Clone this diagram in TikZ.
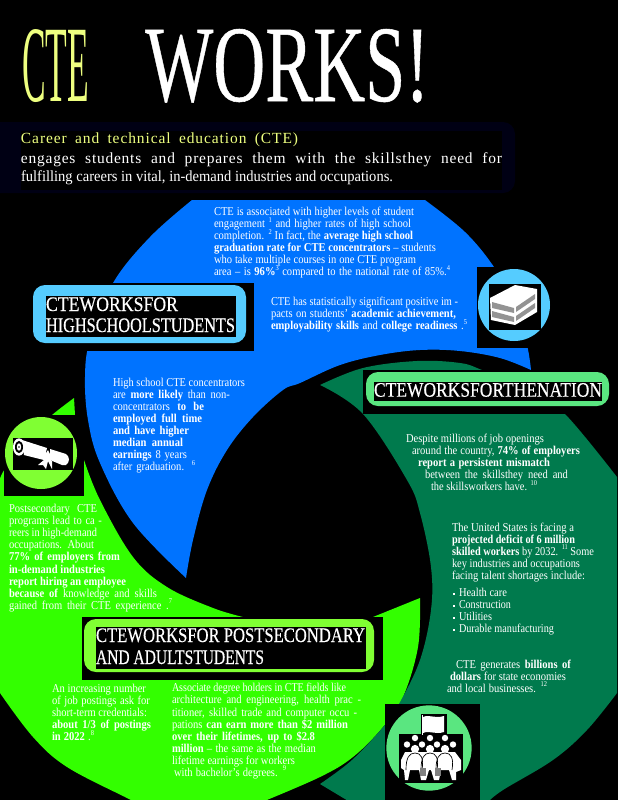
\documentclass[tikz,border=0pt]{standalone}
\usepackage{fontspec}
\usepackage{graphicx}
\setmainfont{Liberation Serif}
\newfontfamily\bodyf[FakeStretch=0.88]{Liberation Serif}
\newfontfamily\headf[FakeBold=0.4]{Liberation Serif}
\newfontfamily\titlef[FakeBold=0.5]{Liberation Serif}
\definecolor{blueA}{HTML}{0073FF}
\definecolor{greenA}{HTML}{33FF00}
\definecolor{greenB}{HTML}{007A4D}
\definecolor{cyanA}{HTML}{55CCFF}
\definecolor{limeA}{HTML}{80FF33}
\definecolor{mintA}{HTML}{5AE680}
\definecolor{yelA}{HTML}{EEFF80}
\definecolor{navyA}{HTML}{000014}
\newsavebox\lnbx
\newlength\lnw
\newcounter{tn}
\newcommand\fitl[2]{\setlength\lnw{#1pt}\setlength\lnw{0.75\lnw}\sbox\lnbx{#2}\ifdim\wd\lnbx>\lnw\resizebox{\lnw}{\height}{\usebox\lnbx}\else\makebox[\lnw][s]{#2}\fi}
\newcommand\supn[1]{\raisebox{.45em}{\fontsize{5.5pt}{6pt}\selectfont\mdseries #1}}
\tikzset{
 bodytext/.style={anchor=base west,inner sep=0pt,outer sep=0pt,text=white,font=\bodyf\fontsize{9pt}{11pt}\selectfont},
 subtext/.style={anchor=base west,inner sep=0pt,outer sep=0pt,text=white,font=\fontsize{11.6pt}{14pt}\selectfont},
 headtext/.style={anchor=base west,inner sep=0pt,outer sep=0pt,text=white,font=\headf\fontsize{15.5pt}{18pt}\selectfont},
}
\newcommand\txl[4]{\stepcounter{tn}\pgfmathsetmacro\wpx{#3-#1}\node[bodytext] (t\arabic{tn}) at (#1,#2) {\fitl{\wpx}{#4}};}
\newcommand\subl[5]{\stepcounter{tn}\pgfmathsetmacro\wpx{#3-#1}\node[subtext,text=#4] (t\arabic{tn}) at (#1,#2) {\fitl{\wpx}{#5}};}
\newcommand\headl[4]{\stepcounter{tn}\pgfmathsetmacro\wpx{#3-#1}\node[headtext] (t\arabic{tn}) at (#1,#2) {\fitl{\wpx}{#4}};}
\begin{document}
\begin{tikzpicture}[x=0.75pt,y=-0.75pt]
\useasboundingbox (0,0) rectangle (618,800);
\fill[black] (0,0) rectangle (618,800);
% navy band
\fill[navyA,rounded corners=9pt] (-20,122) rectangle (515,193);
\fill[black] (21,131) rectangle (502,190);
% blue
\fill[blueA] plot[smooth,tension=.6] coordinates {(186,578) (133,523) (100,463) (88,420) (85,377) (90,340) (113,283) (150,237) (192,200)}
 -- plot[smooth,tension=.6] coordinates {(425,200) (465,232) (494,267) (515,305) (527,345) (531,370)}
 -- plot[smooth,tension=.6] coordinates {(531,370) (500,358) (460,351) (420,350) (380,355) (340,365) (300,383) (283,390) (253,417) (227,450) (207,490) (193,540) (186,578)} -- cycle;
% bright green
\fill[greenA] plot[smooth,tension=.5] coordinates {(74,398) (52,415) (25,440) (3,472) (0,480)}
 -- plot[smooth,tension=.6] coordinates {(0,693) (33,737) (67,767) (127,798) (135,802)}
 -- (262,802)
 -- plot[smooth,tension=.6] coordinates {(262,802) (320,777) (353,757) (383,727) (403,697) (418,647) (420,598)}
 -- (373,617) -- (243,617)
 -- plot[smooth,tension=.6] coordinates {(243,617) (213,608) (167,587) (133,557) (100,500) (84,460)}
 -- (75,415) -- cycle;
% dark green
\fill[greenB] plot[smooth,tension=.6] coordinates {(320,385) (363,368) (417,361) (460,363) (482,370) (530,390) (565,414) (617,477)}
 -- (617,693)
 -- plot[smooth,tension=.6] coordinates {(617,693) (587,730) (553,760) (503,790) (488,802)}
 -- (350,802) -- (320,784)
 -- plot[smooth,tension=.6] coordinates {(320,784) (352,760) (384,726) (399,704) (420,660) (431,610) (431,567) (420,513) (407,480) (363,414) (320,385)} -- cycle;
% header: high school
\fill[black] (33,283) rectangle (254,351);
\fill[cyanA,rounded corners=9pt] (33,285) rectangle (246,343);
\fill[black] (46,296) rectangle (236,337);
\headl{46}{311}{178}{CTEWORKSFOR}
\headl{46}{332}{235}{HIGHSCHOOLSTUDENTS}
% header: nation
\fill[black] (363,370) rectangle (611,414);
\fill[mintA,rounded corners=9pt] (366,372) rectangle (609,406);
\fill[black] (374,382) rectangle (602,401);
\headl{374}{396.7}{602}{CTEWORKSFORTHENATION}
% header: postsecondary
\fill[black] (82,617) rectangle (383,680);
\fill[limeA,rounded corners=9pt] (84,619) rectangle (374,672);
\fill[black] (96,627) rectangle (366,669);
\headl{96}{642}{365}{CTEWORKSFOR POSTSECONDARY}
\headl{96}{664}{264}{AND ADULTSTUDENTS}
% title
\node[anchor=base west,inner sep=0pt,text=yelA] (ttl1) at (22,101) {\resizebox{50.25pt}{54pt}{CTE}};
\node[anchor=base west,inner sep=0pt,text=white] (ttl2) at (145,101) {\resizebox{213pt}{54pt}{\titlef WORKS!}};
% subtitle
\subl{21}{143.5}{298}{yelA}{\addfontfeature{LetterSpace=6}Career and technical education (CTE)}
\subl{21}{163}{502}{white}{\addfontfeature{LetterSpace=5}engages students and prepares them with the skillsthey need for}
\subl{21}{181.7}{393}{white}{fulfilling careers in vital, in-demand industries and occupations.}
% blue paragraphs
\txl{214}{215.5}{414}{CTE is associated with higher levels of student}
\txl{214}{227.5}{411}{engagement \supn{1} and higher rates of high school}
\txl{214}{239.5}{413}{completion. \supn{2} In fact, the \textbf{average high school}}
\txl{214}{251.5}{436}{\textbf{graduation rate for CTE concentrators} – students}
\txl{214}{263.5}{416}{who take multiple courses in one CTE program}
\txl{214}{275.5}{450}{area – is \textbf{96\%}\supn{3} compared to the national rate of 85\%.\supn{4}}
\txl{271}{305.7}{458}{CTE has statistically significant positive im -}
\txl{271}{317.7}{456}{pacts on students’ \textbf{academic achievement,}}
\txl{271}{329.7}{467}{\textbf{employability skills} and \textbf{college readiness} .\supn{5}}
\txl{113}{386.7}{245}{High school CTE concentrators}
\txl{113}{398.7}{230}{are \textbf{more likely} than non-}
\txl{113}{410.7}{204}{concentrators \textbf{to be}}
\txl{113}{422.7}{202}{\textbf{employed full time}}
\txl{113}{434.7}{189}{\textbf{and have higher}}
\txl{113}{446.7}{183}{\textbf{median annual}}
\txl{113}{458.7}{187}{\textbf{earnings} 8 years}
\txl{113}{470.7}{195}{after graduation. \supn{6}}
% postsecondary
\txl{9}{512.7}{97}{Postsecondary CTE}
\txl{9}{524.7}{102}{programs lead to ca -}
\txl{9}{536.7}{97}{reers in high-demand}
\txl{9}{548.7}{94}{occupations. About}
\txl{9}{560.7}{120}{\textbf{77\% of employers from}}
\txl{9}{573}{105}{\textbf{in-demand industries}}
\txl{9}{585}{126}{\textbf{report hiring an employee}}
\txl{9}{597}{157}{\textbf{because of} knowledge and skills}
\txl{9}{609}{172}{gained from their CTE experience .\supn{7}}
\txl{52}{692.7}{146}{An increasing number}
\txl{52}{704.7}{150}{of job postings ask for}
\txl{52}{716.7}{147}{short-term credentials:}
\txl{52}{728.7}{151}{\textbf{about 1/3 of postings}}
\txl{52}{740.7}{94}{\textbf{in 2022} .\supn{8}}
\txl{172}{691.7}{346}{Associate degree holders in CTE fields like}
\txl{172}{703.7}{361}{architecture and engineering, health prac -}
\txl{172}{716}{357}{titioner, skilled trade and computer occu -}
\txl{172}{728}{348}{pations \textbf{can earn more than \$2 million}}
\txl{172}{740}{315}{\textbf{over their lifetimes, up to \$2.8}}
\txl{172}{752}{316}{\textbf{million} – the same as the median}
\txl{172}{764}{295}{lifetime earnings for workers}
\txl{174}{776}{286}{with bachelor’s degrees. \supn{9}}
% nation
\txl{406}{442.7}{544}{Despite millions of job openings}
\txl{412}{454.7}{580}{around the country, \textbf{74\% of employers}}
\txl{418}{466.7}{550}{\textbf{report a persistent mismatch}}
\txl{425}{478.7}{568}{between the skillsthey need and}
\txl{431}{490.5}{537}{the skillsworkers have. \supn{10}}
\txl{452}{531}{574}{The United States is facing a}
\txl{452}{543}{575}{\textbf{projected deficit of 6 million}}
\txl{452}{555}{594}{\textbf{skilled workers} by 2032. \supn{11} Some}
\txl{452}{567}{580}{key industries and occupations}
\txl{452}{579}{585}{facing talent shortages include:}
\foreach \yb in {594,606,618,630} \fill[white] (452.5,\yb-1) rectangle (454.8,\yb+1.2);
\txl{459}{596.3}{507}{Health care}
\txl{459}{608.3}{511}{Construction}
\txl{459}{620.3}{492}{Utilities}
\txl{459}{632.3}{554}{Durable manufacturing}
\txl{456}{668}{571}{CTE generates \textbf{billions of}}
\txl{450}{680}{566}{\textbf{dollars} for state economies}
\txl{447}{692}{547}{and local businesses. \supn{12}}
% books icon
\fill[black] (477,267) rectangle (552,348);
\fill[cyanA] (514,305) circle[radius=27pt];
\fill[black] (489,284) rectangle (541,330);
\fill[white] (490,298) -- (515,285) -- (537,289) -- (537,312) -- (515,325) -- (491,320) -- cycle;
\fill[gray!85] (492,302) -- (514,308) -- (514,313) -- (492,308) -- cycle;
\fill[gray!85] (492,311) -- (514,317) -- (514,322) -- (492,317) -- cycle;
\fill[gray!85] (516,307) -- (535,294) -- (535,299) -- (516,312) -- cycle;
\fill[gray!85] (516,316) -- (535,303) -- (535,308) -- (516,321) -- cycle;
% diploma icon
\fill[black] (4,415) rectangle (84,496);
\fill[limeA] (41,453) circle[radius=27pt];
\fill[black] (13,438) rectangle (73,470);
\fill[white] (22,440) -- (47,448) -- (44,460) -- (24,455) -- cycle;
\fill[white] (50,449) -- (66,454) .. controls (70,457) and (70,462) .. (66,465) -- (62,465) -- (50,460) -- cycle;
\fill[white] (19,447) ellipse [x radius=4.5pt,y radius=6.5pt];
\fill[black] (19,447) ellipse [x radius=3pt,y radius=4.6pt];
\fill[white] (19,447) ellipse [x radius=1.6pt,y radius=2.8pt];
\fill[black] (19,447) circle[radius=.7pt];
\fill[white] (48,450) -- (50,454) -- (54,455) -- (51,458) -- (51,462) -- (47,460) -- (44,461) -- (44,457) -- (42,454) -- (46,453) -- cycle;
\fill[white] (45,459) -- (38,465) -- (43,465) -- (46,469) -- (48,461) -- (52,469) -- (52,461) -- cycle;
% people icon
\fill[black] (385,704) rectangle (480,800);
\fill[mintA] (429,748) circle[radius=32pt];
\fill[black] (421,714) rectangle (447,734);
\fill[black] (399,734) rectangle (463,783);
\fill[white] (423,717) .. controls (430,714) and (434,719) .. (444,716) -- (444,732) .. controls (435,735) and (430,730) .. (423,733) -- cycle;
\draw[white,line width=.6pt] (422,715) -- (422,735);
\foreach \hx in {415,430,445} \fill[white] (\hx,738) circle[radius=2.4pt];
\foreach \hx in {407,422,437,453} \fill[white] (\hx,744.5) circle[radius=2.4pt];
\foreach \hx in {415,430,445} {\fill[white] (\hx,749) circle[radius=3.1pt];}
\fill[white] (401,760) -- (405,752) -- (455,752) -- (461,760) -- (461,770) -- (456,772) -- (456,780) -- (452,780) -- (449,770) -- (441,770) -- (439,780) -- (434,780) -- (431,770) -- (429,770) -- (426,780) -- (421,780) -- (419,770) -- (410,770) -- (408,780) -- (405,780) -- (404,770) -- (401,768) -- cycle;
\foreach \bx in {415,430,445} \draw[black,line width=.5pt] (\bx-9,770) .. controls (\bx-9,758) and (\bx-6,753) .. (\bx,753) .. controls (\bx+6,753) and (\bx+9,758) .. (\bx+7,770);
\fill[gray] (420,768) rectangle (426,776);
\fill[gray] (435,768) rectangle (441,776);
\end{tikzpicture}
\end{document}
